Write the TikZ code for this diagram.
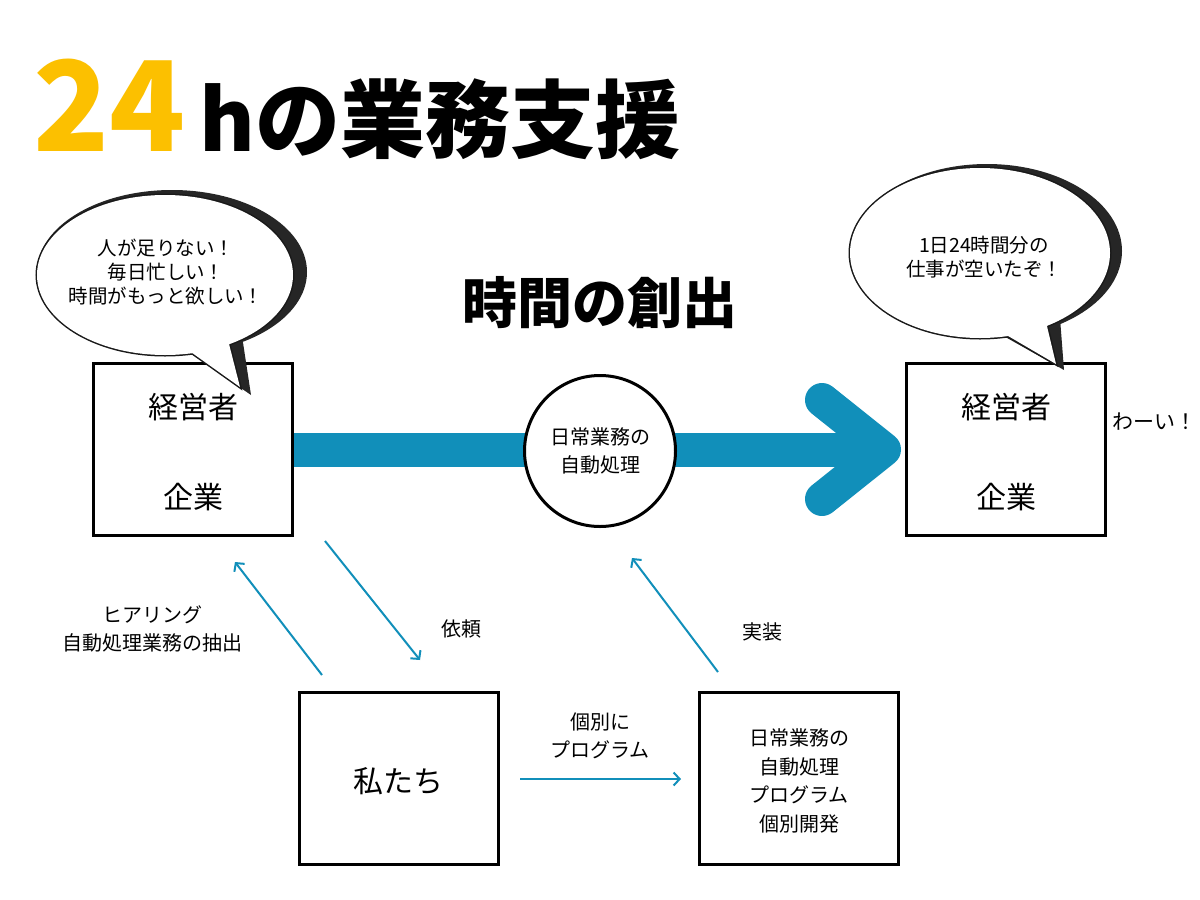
\documentclass[tikz,border=0pt]{standalone}
\usepackage{fontspec}
\setmainfont{Noto Sans CJK JP}
\usetikzlibrary{arrows.meta,shapes.geometric}
\definecolor{arrowblue}{RGB}{17,143,186}
\definecolor{titleyellow}{RGB}{252,192,0}
\begin{document}
\begin{tikzpicture}[x=1pt,y=-1pt,
  box/.style={draw=black, line width=3pt, minimum width=199pt, minimum height=172pt, fill=white, inner sep=0pt},
  bigtxt/.style={font=\fontsize{30}{30}\selectfont, inner sep=0pt},
  midtxt/.style={font=\fontsize{20}{28.5}\selectfont, align=center, inner sep=0pt},
  bubtxt/.style={font=\fontsize{19.5}{24}\selectfont, align=center, inner sep=0pt},
  thinarrow/.style={draw=arrowblue, line width=2pt, -{Straight Barb[length=6pt,width=13pt]}},
  bigshaft/.style={draw=arrowblue, line width=34pt},
  bighead/.style={draw=arrowblue, line width=34pt, line cap=round, line join=round},
  shadow/.style={fill=black!85},
  bubline/.style={draw=black!90, line width=3pt},
  bubfill/.style={fill=white}
]
\useasboundingbox[fill=white] (0,0) rectangle (1200,900);

% Title
\node[anchor=base west, inner sep=0pt, text=titleyellow, font=\fontsize{125}{125}\selectfont\bfseries] (t24) at (33,151) {24};
\node[anchor=base west, inner sep=0pt, font=\fontsize{85}{85}\selectfont\bfseries] (tmain) at (199,151) {hの業務支援};

% Boxes
\node[box] (L) at (193,449.5) {};
\node[box] (R) at (1006,449.5) {};
\node[box] (W) at (399,778.5) {};
\node[box] (P) at (799,778.5) {};

% Big arrow
\coordinate (headtip) at (884,449.5);
\coordinate (headup) at (822,400);
\coordinate (headdn) at (822,499);
\draw[bigshaft] (L.east |- headtip) -- (headtip);
\draw[bighead] (headup) -- (headtip) -- (headdn);

% Circle
\node[circle, draw=black, line width=3pt, fill=white, minimum size=151pt, inner sep=0pt] (C) at (600,451) {};
\node[midtxt] (Ct) at (600,451) {日常業務の\\自動処理};

% Box texts
\node[bigtxt] (Lt1) at (193,407) {経営者};
\node[bigtxt] (Lt2) at (193,497) {企業};
\node[bigtxt] (Rt1) at (1006,407) {経営者};
\node[bigtxt] (Rt2) at (1006,497) {企業};
\node[bigtxt] (Wt) at (398,781) {私たち};
\node[midtxt] (Pt) at (799,781) {日常業務の\\自動処理\\プログラム\\個別開発};
\node[anchor=west, inner sep=0pt, font=\fontsize{21}{21}\selectfont] (wai) at (1112,422) {わーい！};

% Heading
\node[inner sep=0pt, font=\fontsize{55}{55}\selectfont\bfseries] (h2) at (600,303) {時間の創出};

% Left speech bubble
\fill[shadow] (172,272) ellipse [x radius=135, y radius=82];
\fill[shadow] (186,350) -- (251,395) -- (242,336) -- cycle;
\draw[bubline] (165,275) ellipse [x radius=128, y radius=80];
\draw[bubline] (188,350) -- (240,387) -- (228,340) -- cycle;
\fill[bubfill] (165,275) ellipse [x radius=128, y radius=80];
\fill[bubfill] (188,350) -- (240,387) -- (228,340) -- cycle;
\node[bubtxt] (bl) at (166,272) {人が足りない！\\毎日忙しい！\\時間がもっと欲しい！};

% Right speech bubble
\fill[shadow] (987,251) ellipse [x radius=135, y radius=87];
\fill[shadow] (1000,334) -- (1064,370) -- (1060,318) -- cycle;
\draw[bubline] (980,253) ellipse [x radius=130, y radius=85];
\draw[bubline] (1003,333) -- (1056,364) -- (1046,322) -- cycle;
\fill[bubfill] (980,253) ellipse [x radius=130, y radius=85];
\fill[bubfill] (1003,333) -- (1056,364) -- (1046,322) -- cycle;
\node[bubtxt] (br) at (984,257) {1日24時間分の\\仕事が空いたぞ！};

% Thin arrows
\coordinate (a1s) at (322,675);
\coordinate (a1e) at (235,562);
\coordinate (a2s) at (325,541);
\coordinate (a2e) at (420,660);
\coordinate (a3s) at (718,672);
\coordinate (a3e) at (632,558);
\coordinate (a4s) at (520,779);
\coordinate (a4e) at (681,779);
\draw[thinarrow] (a1s) -- (a1e);
\draw[thinarrow] (a2s) -- (a2e);
\draw[thinarrow] (a3s) -- (a3e);
\draw[thinarrow] (a4s) -- (a4e);

% Labels
\node[midtxt] (lb1) at (152,629) {ヒアリング\\自動処理業務の抽出};
\node[midtxt] (lb2) at (461,629) {依頼};
\node[midtxt] (lb3) at (762,632) {実装};
\node[midtxt] (lb4) at (600,736) {個別に\\プログラム};
\end{tikzpicture}
\end{document}
